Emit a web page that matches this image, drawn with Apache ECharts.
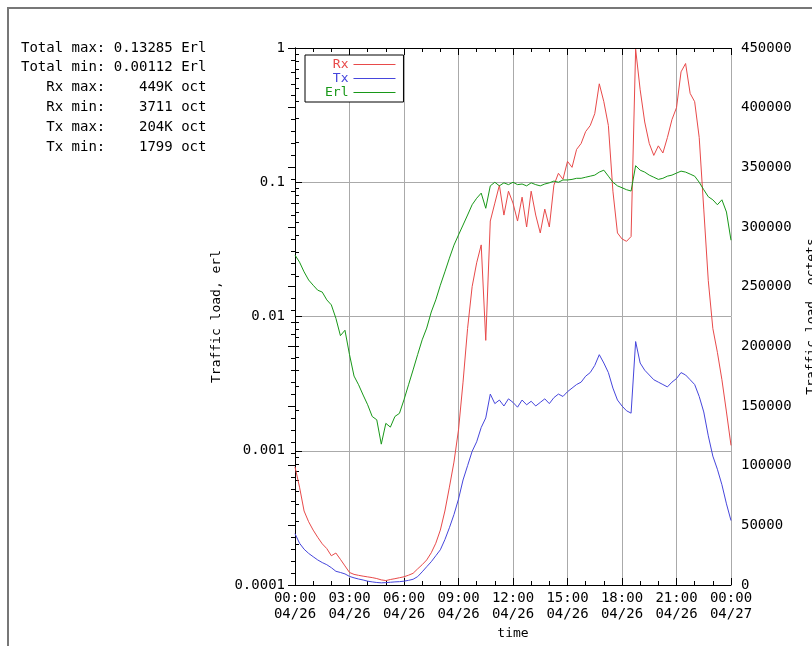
<!DOCTYPE html>
<html>
<head>
<meta charset="utf-8">
<script src="https://cdn.jsdelivr.net/npm/echarts@6/dist/echarts.min.js"></script>
<style>
  html, body { margin: 0; padding: 0; background: #fff; }
  #main { width: 812px; height: 646px; }
</style>
</head>
<body>
<div id="main"></div>
<script>
// hours since 04/26 00:00, one sample every 15 min
var hours = [
  0, 0.25, 0.5, 0.75, 1, 1.25, 1.5, 1.75, 2, 2.25, 2.5, 2.75,
  3, 3.25, 3.5, 3.75, 4, 4.25, 4.5, 4.75, 5, 5.25, 5.5, 5.75,
  6, 6.25, 6.5, 6.75, 7, 7.25, 7.5, 7.75, 8, 8.25, 8.5, 8.75,
  9, 9.25, 9.5, 9.75, 10, 10.25, 10.5, 10.75, 11, 11.25, 11.5, 11.75,
  12, 12.25, 12.5, 12.75, 13, 13.25, 13.5, 13.75, 14, 14.25, 14.5, 14.75,
  15, 15.25, 15.5, 15.75, 16, 16.25, 16.5, 16.75, 17, 17.25, 17.5, 17.75,
  18, 18.25, 18.5, 18.75, 19, 19.25, 19.5, 19.75, 20, 20.25, 20.5, 20.75,
  21, 21.25, 21.5, 21.75, 22, 22.25, 22.5, 22.75, 23, 23.25, 23.5, 23.75,
  24
];

// octets
var rx = [
  99000, 82000, 62000, 53000, 46000, 40000, 34500, 30500, 24500, 26800, 21500, 16000,
  10500, 8900, 8100, 7400, 6800, 6200, 5400, 4300, 3711, 4600, 5300, 6100,
  6900, 8200, 9800, 13500, 17000, 21000, 27000, 35000, 46000, 62000, 82000, 103000,
  130000, 170000, 215000, 250000, 270000, 285000, 205000, 305000, 320000, 335000, 310000, 330000,
  320000, 305000, 325000, 300000, 330000, 310000, 295000, 315000, 300000, 335000, 345000, 340000,
  355000, 350000, 365000, 370000, 380000, 385000, 395000, 420000, 405000, 385000, 330000, 295000,
  290000, 288000, 292000, 449000, 415000, 388000, 370000, 360000, 368000, 362000, 375000, 390000,
  400000, 430000, 437000, 412000, 405000, 375000, 315000, 255000, 215000, 195000, 172000, 145000,
  117000
];

var tx = [
  43000, 35000, 30000, 26500, 23700, 21000, 18800, 17000, 14500, 11500, 10500, 9300,
  7200, 6000, 5000, 4200, 3200, 2600, 2100, 1799, 2000, 2300, 2600, 2800,
  3200, 3900, 4800, 7000, 11000, 15300, 19500, 24500, 29500, 38000, 48000, 59000,
  72000, 88000, 100000, 112000, 120000, 132000, 140000, 160000, 152000, 155000, 150000, 156000,
  153000, 149000, 155000, 151000, 154000, 150000, 153000, 156000, 152000, 157000, 160000, 158000,
  162000, 165000, 168000, 170000, 175000, 178000, 184000, 193000, 186000, 178000, 165000, 155000,
  150000, 146000, 144000, 204000, 186000, 180000, 176000, 172000, 170000, 168000, 166000, 170000,
  173000, 178000, 176000, 172000, 168000, 158000, 145000, 125000, 108000, 97000, 84000, 68000,
  54000
];

// erlang
var erl = [
  0.0287, 0.0254, 0.0215, 0.0187, 0.0171, 0.0157, 0.0152, 0.0133, 0.0122, 0.0097, 0.0072, 0.0079,
  0.0052, 0.0036, 0.0031, 0.0026, 0.0022, 0.0018, 0.0017, 0.00112, 0.0016, 0.0015, 0.0018, 0.0019,
  0.0024, 0.0031, 0.0040, 0.0052, 0.0067, 0.0082, 0.0108, 0.0133, 0.0171, 0.0215, 0.0272, 0.034,
  0.0405, 0.048, 0.057, 0.068, 0.076, 0.083, 0.064, 0.094, 0.100, 0.094, 0.099, 0.096,
  0.100, 0.096, 0.097, 0.094, 0.099, 0.096, 0.094, 0.097, 0.099, 0.102, 0.100, 0.104,
  0.104, 0.105, 0.107, 0.107, 0.109, 0.111, 0.113, 0.119, 0.123, 0.111, 0.100, 0.094,
  0.091, 0.088, 0.086, 0.13285, 0.123, 0.119, 0.113, 0.109, 0.105, 0.107, 0.111, 0.113,
  0.117, 0.121, 0.119, 0.115, 0.111, 0.100, 0.088, 0.078, 0.074, 0.068, 0.074, 0.060,
  0.037
];

var xTickLabels = ['00:00\n04/26', '03:00\n04/26', '06:00\n04/26', '09:00\n04/26', '12:00\n04/26',
                   '15:00\n04/26', '18:00\n04/26', '21:00\n04/26', '00:00\n04/27'];
var logLabels = ['0.0001', '0.001', '0.01', '0.1', '1'];

var statLines = [
  'Total max: 0.13285 Erl',
  'Total min: 0.00112 Erl',
  '   Rx max:    449K oct',
  '   Rx min:    3711 oct',
  '   Tx max:    204K oct',
  '   Tx min:    1799 oct'
];

var RED = '#e84a4a', BLUE = '#4646dc', GREEN = '#189818';
var MONO = '"DejaVu Sans Mono", monospace';

function pairs(vals) {
  return hours.map(function (h, i) { return [h, vals[i]]; });
}

var chart = echarts.init(document.getElementById('main'));

var tickStyle = { inside: true, length: 7, lineStyle: { color: '#000' } };

var option = {
  animation: false,
  backgroundColor: '#fff',
  textStyle: { fontFamily: MONO },
  grid: { left: 295, right: 81, top: 48, bottom: 61, show: false, containLabel: false, outerBoundsMode: 'none' },
  legend: {
    orient: 'vertical',
    left: 305, top: 55,
    align: 'right',
    icon: 'rect',
    itemWidth: 42, itemHeight: 1,
    itemGap: 1,
    padding: [3, 8, 3, 20],
    backgroundColor: '#fff',
    borderColor: '#000', borderWidth: 1, borderRadius: 0,
    textStyle: { fontFamily: MONO, fontSize: 13 },
    data: [
      { name: 'Rx', textStyle: { color: RED } },
      { name: 'Tx', textStyle: { color: BLUE } },
      { name: 'Erl', textStyle: { color: GREEN } }
    ]
  },
  xAxis: [{
    type: 'value', min: 0, max: 24, interval: 3,
    name: 'time', nameLocation: 'middle', nameGap: 41,
    nameTextStyle: { color: '#000', fontFamily: MONO, fontSize: 13 },
    axisLine: { lineStyle: { color: '#000' } },
    axisTick: tickStyle,
    minorTick: { show: true, splitNumber: 3, length: 4, lineStyle: { color: '#000' } },
    axisLabel: {
      color: '#000', fontFamily: MONO, fontSize: 14, lineHeight: 16, margin: 5,
      formatter: function (v) { return xTickLabels[Math.round(v / 3)]; }
    },
    splitLine: { show: true, lineStyle: { color: '#aaaaaa' } }
  }, {
    type: 'value', min: 0, max: 24, interval: 3, position: 'top',
    axisLine: { lineStyle: { color: '#000' } },
    axisTick: tickStyle,
    minorTick: { show: true, splitNumber: 3, length: 4, lineStyle: { color: '#000' } },
    axisLabel: { show: false },
    splitLine: { show: false }
  }],
  yAxis: [{
    type: 'log', logBase: 10, min: 0.0001, max: 1, splitNumber: 4,
    name: 'Traffic load, erl', nameLocation: 'middle', nameGap: 62, nameRotate: 90,
    nameTextStyle: { color: '#000', fontFamily: MONO, fontSize: 13 },
    axisLine: { show: true, lineStyle: { color: '#000' } },
    axisTick: tickStyle,
    minorTick: { show: true, splitNumber: 9, length: 4, lineStyle: { color: '#000' } },
    axisLabel: {
      color: '#000', fontFamily: MONO, fontSize: 14, margin: 10,
      formatter: function (v) { return logLabels[Math.round(Math.log10(v)) + 4]; }
    },
    splitLine: { show: true, lineStyle: { color: '#aaaaaa' } }
  }, {
    type: 'value', min: 0, max: 450000, interval: 50000, position: 'right',
    alignTicks: false,
    name: 'Traffic load, octets', nameLocation: 'middle', nameGap: 74, nameRotate: 90,
    nameTextStyle: { color: '#000', fontFamily: MONO, fontSize: 13 },
    axisLine: { show: true, lineStyle: { color: '#000' } },
    axisTick: tickStyle,
    minorTick: { show: true, splitNumber: 5, length: 4, lineStyle: { color: '#000' } },
    axisLabel: {
      color: '#000', fontFamily: MONO, fontSize: 14, margin: 10,
      formatter: function (v) { return String(v); }
    },
    splitLine: { show: false }
  }],
  series: [{
    name: 'Rx', type: 'line', yAxisIndex: 1, data: pairs(rx),
    showSymbol: false, color: RED, lineStyle: { width: 1, color: RED }
  }, {
    name: 'Tx', type: 'line', yAxisIndex: 1, data: pairs(tx),
    showSymbol: false, color: BLUE, lineStyle: { width: 1, color: BLUE }
  }, {
    name: 'Erl', type: 'line', yAxisIndex: 0, data: pairs(erl),
    showSymbol: false, color: GREEN, lineStyle: { width: 1, color: GREEN }
  }],
  graphic: [{
    type: 'rect', silent: true,
    shape: { x: 8, y: 8, width: 900, height: 700 },
    style: { fill: 'none', stroke: '#777', lineWidth: 2 }
  }, {
    type: 'text', left: 21, top: 38,
    style: {
      text: statLines.join('\n'),
      font: '14px ' + MONO, lineHeight: 19.8, fill: '#000'
    }
  }]
};

chart.setOption(option);
</script>
</body>
</html>
